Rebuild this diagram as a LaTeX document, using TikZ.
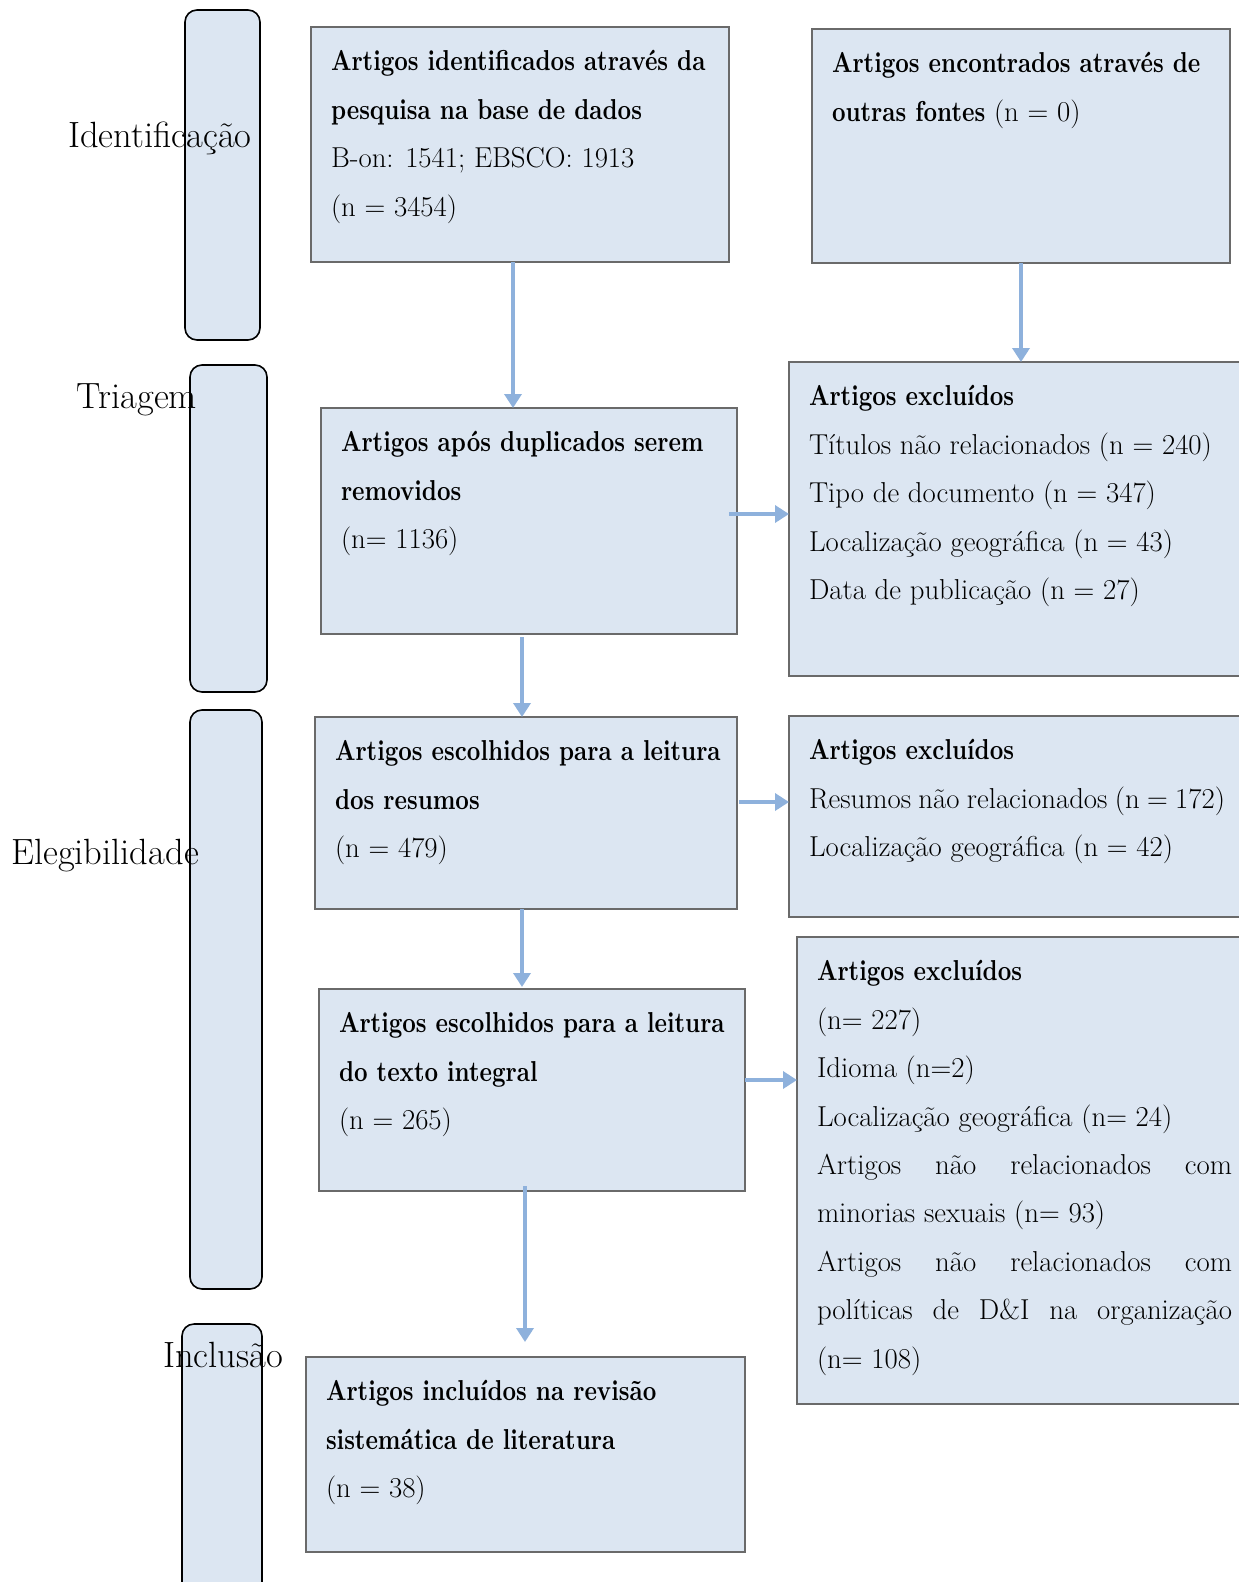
\documentclass[tikz,border=0pt]{standalone}
\usepackage{tikz}
\usetikzlibrary{arrows.meta, positioning, calc}
\usepackage{xcolor}
\usepackage{fontspec}
\newfontface\negrito{lmroman10-bold}[Extension=.otf, FakeStretch=0.82]
\definecolor{caixafill}{HTML}{DCE6F2}
\definecolor{caixastr}{HTML}{6A6A6A}
\definecolor{setacor}{HTML}{8EB1DC}
\tikzset{
  etapa/.style ={rectangle, rounded corners=12pt, draw=black, fill=caixafill,
                 line width=1.6pt, anchor=north west, inner sep=0pt, outer sep=0pt},
  caixa/.style ={rectangle, draw=caixastr, fill=caixafill, line width=1.6pt,
                 anchor=north west, inner xsep=20pt, inner ysep=10pt, outer sep=0pt,
                 font=\fontsize{28.8}{48.4}\selectfont},
  rotulo/.style={font=\fontsize{36.5}{40}\selectfont},
  seta/.style  ={-{Triangle[length=14pt, width=17pt]}, line width=4.5pt, draw=setacor},
}
\newcommand{\texto}[3]{\parbox[c][#2][t]{#1}{\strut#3}}
\newcommand{\destaque}[1]{\mbox{\negrito #1}}

\begin{document}
\begin{tikzpicture}[x=1pt, y=-1pt]
    \useasboundingbox (0,0) rectangle (1239,1582);

    \node[etapa, minimum width=75pt, minimum height=330pt] (e1) at (185,10) {};
    \node[etapa, minimum width=77pt, minimum height=327pt] (e2) at (190,365) {};
    \node[etapa, minimum width=72pt, minimum height=579pt] (e3) at (190,710) {};
    \node[etapa, minimum width=80pt, minimum height=290pt] (e4) at (182,1324) {};

    \node[rotulo] (l1) at (160,138) {Identificação};
    \node[rotulo] (l2) at (137,400) {Triagem};
    \node[rotulo] (l3) at (105,856) {Elegibilidade};
    \node[rotulo] (l4) at (223,1355) {Inclusão};

    \node[caixa] (ident) at (311,27) {\texto{378pt}{215pt}{\destaque{Artigos identificados através da}\\
        \destaque{pesquisa na base de dados}\\ B-on: 1541; EBSCO: 1913\\ (n = 3454)}};
    \node[caixa] (outras) at (812,29) {\texto{378pt}{214pt}{\destaque{Artigos encontrados através de}\\
        \destaque{outras fontes} (n = 0)}};
    \node[caixa] (dupl) at (321,408) {\texto{376pt}{206pt}{\destaque{Artigos após duplicados serem}\\
        \destaque{removidos}\\ (n= 1136)}};
    \node[caixa] (excl1) at (789,362) {\texto{416pt}{294pt}{\destaque{Artigos excluídos}\\
        Títulos não relacionados (n = 240)\\ Tipo de documento (n = 347)\\
        Localização geográfica (n = 43)\\ Data de publicação (n = 27)}};
    \node[caixa] (resumos) at (315,717) {\texto{382pt}{172pt}{\destaque{Artigos escolhidos para a leitura}\\
        \destaque{dos resumos}\\ (n = 479)}};
    \node[caixa] (excl2) at (789,716) {\texto{416pt}{181pt}{\destaque{Artigos excluídos}\\
        Resumos não relacionados (n = 172)\\ Localização geográfica (n = 42)}};
    \node[caixa] (integral) at (319,989) {\texto{386pt}{182pt}{\destaque{Artigos escolhidos para a leitura}\\
        \destaque{do texto integral}\\ (n = 265)}};
    \node[caixa] (excl3) at (797,937) {\texto{415pt}{447pt}{\destaque{Artigos excluídos}\\
        (n= 227)\\ Idioma (n=2)\\ Localização geográfica (n= 24)\\
        \makebox[\linewidth][s]{Artigos não relacionados com}\\ minorias sexuais (n= 93)\\
        \makebox[\linewidth][s]{Artigos não relacionados com}\\
        \makebox[\linewidth][s]{políticas de D\&I na organização}\\ (n= 108)}};
    \node[caixa] (incl) at (306,1357) {\texto{399pt}{175pt}{\destaque{Artigos incluídos na revisão}\\
        \destaque{sistemática de literatura}\\ (n = 38)}};

    \draw[seta] ([xshift=-7pt]ident.south) -- ([xshift=-7pt]ident.south |- dupl.north);
    \draw[seta] (outras.south) -- (outras.south |- excl1.north);
    \draw[seta, shorten <=-8pt] ([yshift=7pt]dupl.east) -- ([yshift=7pt]dupl.east -| excl1.west);
    \draw[seta] ([xshift=-7pt, yshift=-3pt]dupl.south) -- ([xshift=-7pt]dupl.south |- resumos.north);
    \draw[seta] ([xshift=2pt, yshift=11pt]resumos.east) -- ([yshift=11pt]resumos.east -| excl2.west);
    \draw[seta] ([xshift=-4pt]resumos.south) -- ([xshift=-4pt, yshift=2pt]resumos.south |- integral.north);
    \draw[seta] ([yshift=10pt]integral.east) -- ([yshift=10pt]integral.east -| excl3.west);
    \draw[seta, shorten <=-5pt, shorten >=15pt] ([xshift=-7pt]integral.south) -- ([xshift=-7pt]integral.south |- incl.north);
\end{tikzpicture}
\end{document}
